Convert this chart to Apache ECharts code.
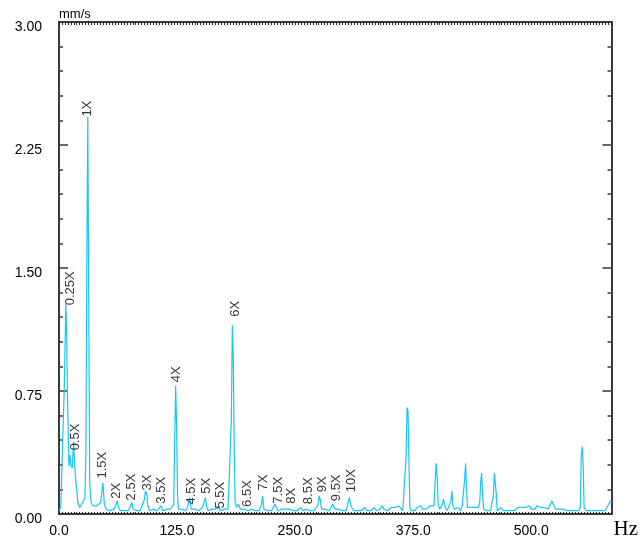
<!DOCTYPE html>
<html>
<head>
<meta charset="utf-8">
<script src="https://cdn.jsdelivr.net/npm/echarts@6/dist/echarts.min.js"></script>
<style>
html,body{margin:0;padding:0;background:#fff;}
#chart{width:641px;height:544px;}
</style>
</head>
<body>
<div id="chart"></div>
<script>
// Spectrum: [frequency Hz, amplitude mm/s]
const spectrum = [
 [0.5,0.02],[2.0,0.05],[3.9,0.45],[5.5,0.75],[6.5,1.05],[7.3,1.28],[8.0,1.13],[9.0,0.72],[10.0,0.45],[10.5,0.29],
 [11.5,0.36],[12.5,0.30],[14.0,0.28],[15.5,0.44],[16.5,0.30],[18.0,0.19],[20.0,0.07],[22.0,0.04],[24.0,0.05],[26.0,0.08],
 [27.5,0.10],[28.5,0.38],[29.5,1.54],[30.5,2.42],[31.5,1.28],[32.5,0.19],[34.0,0.07],[36.0,0.05],[38.0,0.04],[40.0,0.05],
 [42.0,0.04],[44.0,0.07],[46.5,0.19],[48.0,0.06],[50.0,0.03],[52.0,0.03],[54.0,0.02],[56.0,0.03],[58.0,0.03],[60.0,0.05],
 [61.6,0.08],[63.0,0.04],[65.0,0.02],[67.0,0.03],[69.0,0.02],[71.0,0.03],[73.0,0.02],[75.0,0.04],[77.0,0.07],[78.5,0.03],
 [80,0.02],[82,0.02],[84,0.03],[86,0.02],[88,0.03],[90.5,0.09],[91.5,0.14],[93.0,0.12],[94.0,0.05],[96,0.02],
 [98,0.02],[100,0.03],[102,0.02],[104,0.02],[106,0.03],[108,0.05],[110,0.02],[112,0.02],[114,0.03],[116,0.02],
 [118,0.03],[120,0.02],[121.5,0.06],[122.5,0.44],[123.5,0.78],[124.5,0.55],[125.5,0.12],[126.5,0.03],[128,0.02],[130,0.03],
 [132,0.02],[134,0.02],[136,0.04],[138.4,0.10],[140,0.03],[142,0.02],[144,0.03],[146,0.02],[148,0.02],[150,0.03],
 [152,0.04],[154,0.08],[155,0.10],[156.5,0.04],[158,0.02],[160,0.02],[162,0.03],[164,0.02],[166,0.03],[168,0.02],
 [169.5,0.04],[171,0.02],[173,0.02],[175,0.03],[177,0.02],[179,0.03],[181,0.04],[182.5,0.58],[183.5,1.15],[184.5,0.97],
 [185.5,0.42],[186.5,0.07],[188,0.04],[190,0.06],[192,0.03],[194,0.02],[196,0.03],[198,0.04],[200,0.02],[202,0.02],
 [204,0.03],[206,0.02],[208,0.02],[210,0.03],[212,0.02],[214.5,0.06],[215.5,0.11],[217,0.03],[219,0.02],[221,0.02],
 [223,0.03],[225,0.02],[227,0.03],[229,0.06],[230,0.04],[232,0.02],[234,0.02],[236,0.03],[238,0.02],[240,0.03],
 [242,0.04],[244,0.03],[246,0.02],[248,0.02],[250,0.03],[252,0.02],[254,0.02],[256,0.04],[258,0.02],[260,0.02],
 [262,0.03],[264,0.02],[266,0.02],[268,0.03],[270,0.02],[272,0.03],[274,0.05],[275.5,0.11],[276.5,0.09],[278,0.03],
 [280,0.02],[282,0.03],[284,0.02],[286,0.02],[288,0.03],[290,0.06],[292,0.03],[294,0.02],[296,0.03],[298,0.02],
 [300,0.02],[302,0.02],[304,0.02],[306,0.03],[307.5,0.10],[309,0.05],[310.5,0.06],[312,0.02],[314,0.02],[316,0.02],
 [318,0.03],[320,0.02],[322,0.02],[324,0.04],[326,0.02],[328,0.03],[330,0.02],[332,0.02],[334,0.04],[336,0.02],
 [338,0.02],[340,0.03],[342,0.05],[344,0.03],[346,0.02],[348,0.02],[350,0.03],[352,0.04],[354,0.03],[356,0.04],
 [358,0.03],[360,0.05],[362,0.04],[364,0.02],[366,0.03],[367.5,0.35],[368.5,0.65],[369.5,0.63],[370.5,0.33],[371.5,0.04],
 [373,0.02],[375,0.03],[377,0.02],[379,0.04],[381,0.03],[383,0.05],[385,0.03],[387,0.04],[389,0.03],[391,0.02],
 [393,0.05],[395,0.06],[397,0.05],[398.5,0.22],[399.5,0.31],[400.5,0.21],[401.5,0.06],[403,0.03],[405,0.02],[406,0.06],
 [407,0.09],[408,0.08],[409,0.04],[411,0.02],[413,0.03],[415,0.08],[416,0.14],[417,0.05],[419,0.03],[421,0.02],
 [423,0.04],[425,0.02],[427,0.05],[428.5,0.15],[429.5,0.21],[430.5,0.31],[431.5,0.15],[432.5,0.04],[434,0.05],[436,0.04],
 [438,0.05],[440,0.04],[442,0.03],[444,0.04],[445.5,0.07],[446.5,0.20],[447.5,0.25],[448.5,0.12],[449.5,0.03],[451,0.02],
 [453,0.02],[455,0.02],[457,0.02],[459,0.02],[460,0.12],[461,0.25],[462,0.26],[463,0.12],[464,0.02],[466,0.03],
 [468,0.04],[470,0.02],[472,0.03],[474,0.02],[476,0.03],[478,0.02],[480,0.03],[482,0.02],[484,0.03],[486,0.04],
 [488,0.03],[490,0.04],[492,0.03],[494,0.04],[496,0.03],[498,0.05],[500,0.03],[502,0.04],[504,0.03],[506,0.05],
 [508,0.06],[510,0.04],[512,0.03],[514,0.04],[516,0.03],[518,0.03],[520,0.04],[522,0.08],[524,0.05],[526,0.03],
 [528,0.02],[530,0.03],[532,0.02],[534,0.03],[536,0.02],[538,0.02],[540,0.03],[542,0.02],[544,0.03],[546,0.02],
 [548,0.03],[550,0.02],[552,0.04],[553,0.36],[554,0.41],[555,0.30],[556,0.04],[558,0.02],[560,0.03],[562,0.02],
 [564,0.03],[566,0.02],[568,0.03],[570,0.02],[572,0.03],[574,0.02],[576,0.03],[578,0.02],[580,0.04],[582,0.03],
 [584,0.08],[585,0.07]
];

// Harmonic labels
const harmonicNames = ['0.25X','0.5X','1X','1.5X','2X','2.5X','3X','3.5X','4X','4.5X','5X','5.5X','6X','6.5X','7X','7.5X','8X','8.5X','9X','9.5X','10X'];
const harmonicHz    = [11.9,17.6,30.6,46.2,60.9,76.8,93.5,108.5,124.6,140.0,156.3,170.4,186.8,199.9,216.5,232.0,246.1,263.7,278.6,293.3,310.0];
const harmonicAmp   = [1.27,0.385,2.42,0.213,0.09,0.08,0.14,0.06,0.80,0.055,0.12,0.03,1.20,0.04,0.14,0.06,0.06,0.057,0.13,0.075,0.13];

const xMin = 0, xMax = 585, xLabelStep = 125, xMinorStep = 3.125;
const yMin = 0, yMax = 3, yStep = 0.75;

const chart = echarts.init(document.getElementById('chart'));
const axisColor = '#3a3a3a';
const option = {
  backgroundColor: '#ffffff',
  animation: false,
  grid: { left: 59, right: 28, top: 22, bottom: 29 },
  xAxis: [
    {
      type: 'value', min: xMin, max: xMax, interval: xMinorStep, position: 'bottom',
      name: 'Hz', nameLocation: 'end', nameGap: 2,
      nameTextStyle: { fontFamily: 'Liberation Serif', fontSize: 21, color: '#000', verticalAlign: 'top', align: 'left', lineHeight: 30 },
      axisLine: { onZero: false, lineStyle: { color: axisColor, width: 2 } },
      axisTick: { inside: true, length: 2, lineStyle: { color: '#222', width: 1 } },
      splitLine: { show: false },
      axisLabel: {
        margin: 10, fontFamily: 'Liberation Sans', fontSize: 14, color: '#000',
        formatter: v => (Math.abs(v % xLabelStep) < 1e-6 ? v.toFixed(1) : '')
      }
    },
    {
      type: 'value', min: xMin, max: xMax, interval: xMinorStep, position: 'top',
      axisLine: { onZero: false, lineStyle: { color: axisColor, width: 2 } },
      axisTick: { inside: true, length: 3, lineStyle: { color: '#222', width: 1 } },
      splitLine: { show: false },
      axisLabel: { show: false }
    }
  ],
  yAxis: [
    {
      type: 'value', min: yMin, max: yMax, interval: yStep, position: 'left',
      name: 'mm/s', nameLocation: 'end', nameGap: 1,
      nameTextStyle: { fontFamily: 'Liberation Sans', fontSize: 13, color: '#000', align: 'left', verticalAlign: 'bottom' },
      axisLine: { onZero: false, lineStyle: { color: axisColor, width: 2 } },
      axisTick: { inside: true, length: 9, lineStyle: { color: axisColor, width: 1.5 } },
      minorTick: { show: true, splitNumber: 5, length: 4, lineStyle: { color: axisColor, width: 1.5 } },
      splitLine: { show: false },
      axisLabel: {
        margin: 17, fontFamily: 'Liberation Sans', fontSize: 14, color: '#000',
        verticalAlign: 'top', lineHeight: 11,
        formatter: v => v.toFixed(2)
      }
    },
    {
      type: 'value', min: yMin, max: yMax, interval: yStep, position: 'right',
      axisLine: { onZero: false, lineStyle: { color: axisColor, width: 2 } },
      axisTick: { inside: true, length: 9, lineStyle: { color: axisColor, width: 1.5 } },
      minorTick: { show: true, splitNumber: 5, length: 4, lineStyle: { color: axisColor, width: 1.5 } },
      splitLine: { show: false },
      axisLabel: { show: false }
    }
  ],
  series: [
    {
      type: 'line', xAxisIndex: 0, yAxisIndex: 0,
      data: spectrum, showSymbol: false, symbol: 'none',
      lineStyle: { color: '#17C6F4', width: 1.2 },
      z: 3
    },
    {
      type: 'scatter', xAxisIndex: 0, yAxisIndex: 0,
      symbolSize: 1, itemStyle: { color: 'rgba(0,0,0,0)' },
      data: harmonicNames.map((n, i) => ({ value: [harmonicHz[i], harmonicAmp[i]], name: n })),
      label: {
        show: true, position: 'top', distance: 0, rotate: 90,
        align: 'left', verticalAlign: 'middle',
        formatter: p => p.name,
        fontFamily: 'Liberation Sans', fontSize: 13, color: '#000'
      },
      z: 4
    }
  ]
};
chart.setOption(option);
</script>
</body>
</html>
